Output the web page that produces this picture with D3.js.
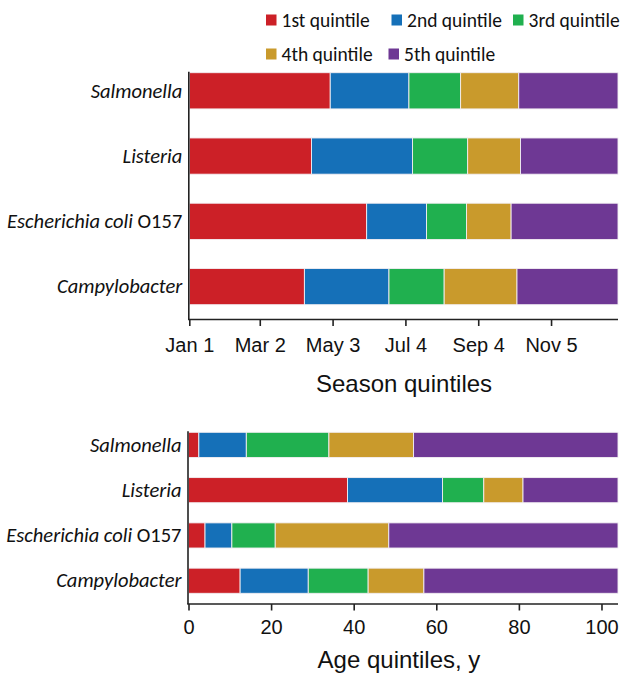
<!DOCTYPE html>
<html>
<head>
<meta charset="utf-8">
<script src="https://cdn.jsdelivr.net/npm/d3@7"></script>
<style>
  html, body { margin: 0; padding: 0; background: #fff; }
  svg { display: block; }
</style>
</head>
<body>
<svg id="chart" width="621" height="673"></svg>
<script>
// ---- data ----
const pathogens = ["Salmonella", "Listeria", "Escherichia coli O157", "Campylobacter"];
const quintiles = ["1st quintile", "2nd quintile", "3rd quintile", "4th quintile", "5th quintile"];
const quintileColors = ["#CC2027", "#1570B8", "#20B04F", "#C99A2C", "#6E3894"];

// Season quintile widths, in days from Jan 1 (per pathogen, 1st..5th)
const seasonSalmonella    = [120, 67, 44, 49.5, 84.5];
const seasonListeria      = [104, 86, 47, 45, 83];
const seasonEcoli         = [151, 51, 34, 38, 91];
const seasonCampylobacter = [98, 72, 47, 62, 86];

// Age quintile widths, in years (per pathogen, 1st..5th)
const ageSalmonella    = [2.5, 11.5, 20, 20.5, 49.5];
const ageListeria      = [38.5, 23, 10, 9.5, 23];
const ageEcoli         = [4, 6.5, 10.5, 27.5, 55.5];
const ageCampylobacter = [12.5, 16.5, 14.5, 13.5, 47];

const seasonTickDays = [0, 60, 122, 184, 246, 308];
const seasonTickLabels = ["Jan 1", "Mar 2", "May 3", "Jul 4", "Sep 4", "Nov 5"];
const ageTicks = [0, 20, 40, 60, 80, 100];

const seasonTitle = "Season quintiles";
const ageTitle = "Age quintiles, y";

// ---- drawing ----
const svg = d3.select("#chart");
const labelFont = "Carlito, Lato, 'Open Sans', sans-serif";
const axisFont = "'Liberation Sans', Arial, sans-serif";

function rowsFrom(arrays) {
  return pathogens.map((p, i) => {
    const o = { pathogen: p };
    quintiles.forEach((q, j) => { o[q] = arrays[i][j]; });
    return o;
  });
}

function drawPanel(cfg) {
  const rows = rowsFrom(cfg.arrays);
  const stacked = d3.stack().keys(quintiles)(rows);

  const x = d3.scaleLinear().domain(cfg.domain).range([cfg.x0, cfg.x1]);
  const y = d3.scaleBand().domain(pathogens).range([cfg.yTop, cfg.yBottom])
    .paddingInner(0.445).paddingOuter(0);

  const g = svg.append("g");

  g.selectAll("g.series").data(stacked).join("g")
    .attr("class", "series")
    .attr("fill", (d, i) => quintileColors[i])
    .selectAll("rect").data(d => d).join("rect")
      .attr("x", d => x(d[0]))
      .attr("width", d => x(d[1]) - x(d[0]))
      .attr("y", d => y(d.data.pathogen))
      .attr("height", y.bandwidth())
      .attr("stroke", "#f2eef2")
      .attr("stroke-width", 0.9);

  // y axis (line only) + italic category labels
  g.append("line")
    .attr("x1", cfg.x0 - 0.5).attr("x2", cfg.x0 - 0.5)
    .attr("y1", cfg.yTop - 1).attr("y2", cfg.axisY)
    .attr("stroke", "#222").attr("stroke-width", 1.6);

  const lab = g.selectAll("text.cat").data(pathogens).join("text")
    .attr("class", "cat")
    .attr("x", cfg.x0 - 7)
    .attr("y", d => y(d) + y.bandwidth() / 2)
    .attr("dy", "0.33em")
    .attr("text-anchor", "end")
    .attr("font-family", labelFont)
    .attr("font-size", 20.5)
    .attr("fill", "#111");
  lab.each(function(d) {
    const t = d3.select(this);
    if (d === "Escherichia coli O157") {
      t.append("tspan").attr("font-style", "italic").text("Escherichia coli");
      t.append("tspan").text(" O157");
    } else {
      t.append("tspan").attr("font-style", "italic").text(d);
    }
  });

  // x axis
  const axis = d3.axisBottom(x).tickValues(cfg.tickValues)
    .tickFormat((d, i) => cfg.tickLabels[i])
    .tickSize(6.5).tickSizeOuter(0).tickPadding(cfg.tickPad);
  const ax = g.append("g").attr("transform", `translate(0,${cfg.axisY})`).call(axis);
  ax.select(".domain").attr("stroke", "#222").attr("stroke-width", 1.6)
    .attr("d", `M${cfg.x0 - 1.3},0H${cfg.x1}`);
  ax.selectAll(".tick line").attr("stroke", "#222").attr("stroke-width", 1.6);
  ax.selectAll(".tick text").attr("font-family", axisFont).attr("font-size", 20)
    .attr("fill", "#111");

  g.append("text")
    .attr("x", cfg.titleX).attr("y", cfg.titleY)
    .attr("text-anchor", "middle")
    .attr("font-family", axisFont).attr("font-size", 24).attr("fill", "#111")
    .text(cfg.title);
}

drawPanel({
  arrays: [seasonSalmonella, seasonListeria, seasonEcoli, seasonCampylobacter],
  domain: [0, 365], x0: 189.3, x1: 618,
  yTop: 72.7, yBottom: 304.7, axisY: 319.5, tickPad: 11.5,
  tickValues: seasonTickDays, tickLabels: seasonTickLabels,
  title: seasonTitle, titleX: 404, titleY: 391.5
});

drawPanel({
  arrays: [ageSalmonella, ageListeria, ageEcoli, ageCampylobacter],
  domain: [0, 104], x0: 188.5, x1: 618,
  yTop: 432.3, yBottom: 593.3, axisY: 604, tickPad: 9,
  tickValues: ageTicks, tickLabels: ageTicks.map(String),
  title: ageTitle, titleX: 399, titleY: 668
});

// legend
const legendPos = [
  { x: 266, y: 20 }, { x: 391.5, y: 20 }, { x: 513, y: 20 },
  { x: 266, y: 54 }, { x: 388.5, y: 54 }
];
const lg = svg.append("g").selectAll("g").data(quintiles).join("g")
  .attr("transform", (d, i) => `translate(${legendPos[i].x},${legendPos[i].y})`);
lg.append("rect").attr("x", 0).attr("y", -5.5).attr("width", 10.5).attr("height", 11)
  .attr("fill", (d, i) => quintileColors[i]);
lg.append("text").attr("x", 15.5).attr("y", 0).attr("dy", "0.35em")
  .attr("font-family", labelFont).attr("font-size", 19.5).attr("fill", "#111")
  .text(d => d);
</script>
</body>
</html>
